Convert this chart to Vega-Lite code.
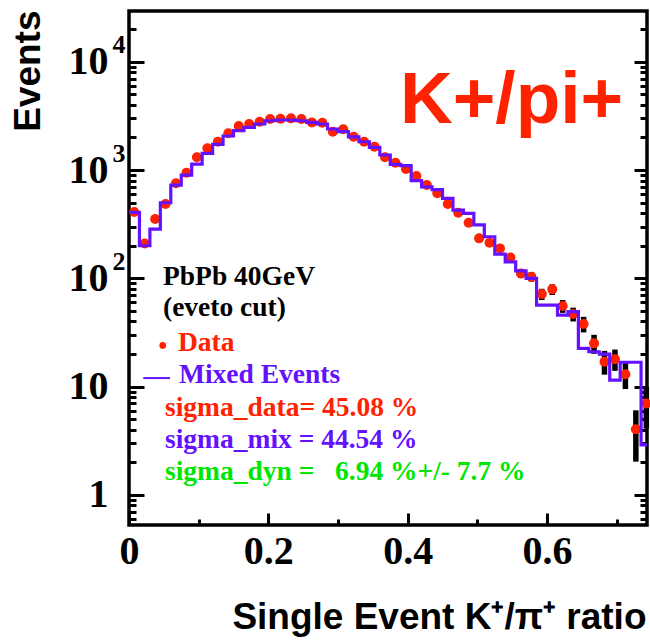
{
  "$schema": "https://vega.github.io/schema/vega-lite/v6.json",
  "width": 518,
  "height": 514,
  "autosize": "none",
  "padding": {"left": 129, "top": 11, "right": 3, "bottom": 118},
  "background": "white",
  "config": {
    "view": {"stroke": "black", "strokeWidth": 3.5},
    "axis": {"grid": false}
  },
  "datasets": {
    "hist": [
      {"ratio": 0.0, "events": 407}, {"ratio": 0.015, "events": 200}, {"ratio": 0.03, "events": 285},
      {"ratio": 0.045, "events": 499}, {"ratio": 0.06, "events": 727}, {"ratio": 0.075, "events": 899},
      {"ratio": 0.09, "events": 1135}, {"ratio": 0.105, "events": 1426}, {"ratio": 0.12, "events": 1727},
      {"ratio": 0.135, "events": 2061}, {"ratio": 0.15, "events": 2307}, {"ratio": 0.165, "events": 2478},
      {"ratio": 0.18, "events": 2661}, {"ratio": 0.195, "events": 2851}, {"ratio": 0.21, "events": 2897},
      {"ratio": 0.225, "events": 2897}, {"ratio": 0.24, "events": 2851}, {"ratio": 0.255, "events": 2754},
      {"ratio": 0.27, "events": 2661}, {"ratio": 0.285, "events": 2393}, {"ratio": 0.3, "events": 2259},
      {"ratio": 0.315, "events": 2028}, {"ratio": 0.33, "events": 1824}, {"ratio": 0.345, "events": 1618},
      {"ratio": 0.36, "events": 1377}, {"ratio": 0.375, "events": 1130}, {"ratio": 0.39, "events": 1100},
      {"ratio": 0.405, "events": 797}, {"ratio": 0.42, "events": 700}, {"ratio": 0.435, "events": 660},
      {"ratio": 0.45, "events": 547}, {"ratio": 0.465, "events": 427}, {"ratio": 0.48, "events": 398},
      {"ratio": 0.495, "events": 311}, {"ratio": 0.51, "events": 242}, {"ratio": 0.525, "events": 167},
      {"ratio": 0.54, "events": 142}, {"ratio": 0.555, "events": 117}, {"ratio": 0.57, "events": 100},
      {"ratio": 0.585, "events": 56.6}, {"ratio": 0.6, "events": 56.6}, {"ratio": 0.615, "events": 45.8},
      {"ratio": 0.63, "events": 49.2}, {"ratio": 0.645, "events": 22.6}, {"ratio": 0.66, "events": 21.0},
      {"ratio": 0.675, "events": 20.0}, {"ratio": 0.69, "events": 11.5}, {"ratio": 0.705, "events": 16.8},
      {"ratio": 0.72, "events": 16.8}, {"ratio": 0.735, "events": 2.9}, {"ratio": 0.75, "events": 2.9}
    ],
    "points": [
      {"ratio": 0.0075, "events": 410}, {"ratio": 0.0225, "events": 210}, {"ratio": 0.0375, "events": 353},
      {"ratio": 0.0525, "events": 486}, {"ratio": 0.0675, "events": 754}, {"ratio": 0.0825, "events": 944},
      {"ratio": 0.0975, "events": 1310}, {"ratio": 0.1125, "events": 1585}, {"ratio": 0.1275, "events": 1824},
      {"ratio": 0.1425, "events": 2183}, {"ratio": 0.1575, "events": 2548}, {"ratio": 0.1725, "events": 2661},
      {"ratio": 0.1875, "events": 2793}, {"ratio": 0.2025, "events": 2958}, {"ratio": 0.2175, "events": 2979},
      {"ratio": 0.2325, "events": 3000}, {"ratio": 0.2475, "events": 2958}, {"ratio": 0.2625, "events": 2754},
      {"ratio": 0.2775, "events": 2735}, {"ratio": 0.2925, "events": 2259}, {"ratio": 0.3075, "events": 2377},
      {"ratio": 0.3225, "events": 2028}, {"ratio": 0.3375, "events": 1824}, {"ratio": 0.3525, "events": 1641},
      {"ratio": 0.3675, "events": 1310}, {"ratio": 0.3825, "events": 1167}, {"ratio": 0.3975, "events": 1021},
      {"ratio": 0.4125, "events": 881}, {"ratio": 0.4275, "events": 727}, {"ratio": 0.4425, "events": 610},
      {"ratio": 0.4575, "events": 485}, {"ratio": 0.4725, "events": 403}, {"ratio": 0.4875, "events": 326},
      {"ratio": 0.5025, "events": 234}, {"ratio": 0.5175, "events": 213}, {"ratio": 0.5325, "events": 189},
      {"ratio": 0.5475, "events": 156, "lo": 143.5, "hi": 168.5},
      {"ratio": 0.5625, "events": 111, "lo": 100.5, "hi": 121.5},
      {"ratio": 0.5775, "events": 103.5, "lo": 93.3, "hi": 113.7},
      {"ratio": 0.5925, "events": 71.6, "lo": 63.1, "hi": 80.1},
      {"ratio": 0.6075, "events": 79.1, "lo": 70.2, "hi": 88.0},
      {"ratio": 0.6225, "events": 55.5, "lo": 48.0, "hi": 63.0},
      {"ratio": 0.6375, "events": 46.8, "lo": 40.0, "hi": 53.6},
      {"ratio": 0.6525, "events": 37.9, "lo": 31.7, "hi": 44.1},
      {"ratio": 0.6675, "events": 25.1, "lo": 20.1, "hi": 30.1},
      {"ratio": 0.6825, "events": 17.0, "lo": 12.9, "hi": 21.4},
      {"ratio": 0.6975, "events": 17.9, "lo": 14.0, "hi": 22.0},
      {"ratio": 0.7125, "events": 13.0, "lo": 9.5, "hi": 16.5},
      {"ratio": 0.7275, "events": 4.04, "lo": 2.03, "hi": 6.05},
      {"ratio": 0.7425, "events": 7.0, "lo": 4.1, "hi": 10.0}
    ],
    "anchor": [{}]
  },
  "resolve": {"axis": {"y": "independent"}},
  "layer": [
    {
      "data": {"name": "points"},
      "mark": {"type": "rule", "color": "black", "strokeWidth": 5.5},
      "encoding": {
        "x": {
          "field": "ratio", "type": "quantitative",
          "scale": {"domain": [0, 0.7435], "nice": false, "zero": false},
          "axis": {
            "orient": "bottom",
            "values": [0, 0.05, 0.1, 0.15, 0.2, 0.25, 0.3, 0.35, 0.4, 0.45, 0.5, 0.55, 0.6, 0.65, 0.7],
            "domain": false, "grid": false,
            "tickColor": "black", "tickWidth": 3,
            "tickSize": {"condition": {"test": "indexof([0, 0.2, 0.4, 0.6], datum.value) >= 0", "value": -12}, "value": -6},
            "labelExpr": "datum.value == 0 ? '0' : indexof([0.2, 0.4, 0.6], datum.value) >= 0 ? format(datum.value, '.1f') : ''",
            "labelFont": "Liberation Serif", "labelFontWeight": "bold", "labelFontSize": 40, "labelColor": "black",
            "labelAlign": "center", "labelBaseline": "top", "labelPadding": 18,
            "labelOverlap": false, "labelFlush": false, "labelBound": false,
            "title": "Single Event K⁺/π⁺ ratio",
            "titleFont": "Liberation Sans", "titleFontWeight": "bold", "titleFontSize": 37, "titleColor": "black",
            "titleAnchor": "end", "titleAlign": "right", "titleBaseline": "alphabetic",
            "titleX": 517, "titleY": 103
          }
        },
        "y": {
          "field": "lo", "type": "quantitative",
          "scale": {"type": "log", "domain": [0.528, 29400], "nice": false},
          "axis": {
            "orient": "left",
            "values": [0.6, 0.7, 0.8, 0.9, 1, 2, 3, 4, 5, 6, 7, 8, 9, 10, 20, 30, 40, 50, 60, 70, 80, 90, 100, 200, 300, 400, 500, 600, 700, 800, 900, 1000, 2000, 3000, 4000, 5000, 6000, 7000, 8000, 9000, 10000, 20000],
            "domain": false, "grid": false,
            "tickColor": "black", "tickWidth": 3,
            "tickSize": {"condition": {"test": "indexof([1, 10, 100, 1000, 10000], datum.value) >= 0", "value": -15}, "value": -7},
            "labelExpr": "datum.value == 1 ? '1' : indexof([10, 100, 1000, 10000], datum.value) >= 0 ? '10' : ''",
            "labelFont": "Liberation Serif", "labelFontWeight": "bold", "labelFontSize": 40, "labelColor": "black",
            "labelAlign": "right", "labelBaseline": "middle", "labelPadding": 36,
            "labelOverlap": false, "labelFlush": false, "labelBound": false,
            "title": "Events",
            "titleFont": "Liberation Sans", "titleFontWeight": "bold", "titleFontSize": 37, "titleColor": "black",
            "titleAngle": -90, "titleAlign": "right", "titleBaseline": "middle",
            "titleX": -101, "titleY": -1
          }
        },
        "y2": {"field": "hi"}
      }
    },
    {
      "data": {"name": "points"},
      "mark": {"type": "circle", "color": "#ff2200", "opacity": 1, "size": 100},
      "encoding": {
        "x": {"field": "ratio", "type": "quantitative"},
        "y": {
          "field": "events", "type": "quantitative",
          "scale": {"type": "log", "domain": [0.528, 29400], "nice": false},
          "axis": {
            "orient": "left",
            "values": [100, 1000, 10000],
            "ticks": false, "domain": false, "grid": false,
            "labelExpr": "datum.value == 10000 ? '4' : datum.value == 1000 ? '3' : '2'",
            "labelFont": "Liberation Serif", "labelFontWeight": "bold", "labelFontSize": 26, "labelColor": "black",
            "labelAlign": "left", "labelBaseline": "middle", "labelPadding": 17, "labelOffset": -17,
            "labelOverlap": false, "labelFlush": false, "labelBound": false,
            "title": null
          }
        }
      }
    },
    {
      "data": {"name": "hist"},
      "mark": {"type": "line", "interpolate": "step-after", "color": "#6311ff", "strokeWidth": 3.2, "clip": true},
      "encoding": {
        "x": {"field": "ratio", "type": "quantitative"},
        "y": {
          "field": "events", "type": "quantitative",
          "scale": {"type": "log", "domain": [0.528, 29400], "nice": false},
          "axis": {
            "orient": "right",
            "values": [0.6, 0.7, 0.8, 0.9, 1, 2, 3, 4, 5, 6, 7, 8, 9, 10, 20, 30, 40, 50, 60, 70, 80, 90, 100, 200, 300, 400, 500, 600, 700, 800, 900, 1000, 2000, 3000, 4000, 5000, 6000, 7000, 8000, 9000, 10000, 20000],
            "domain": false, "grid": false, "labels": false,
            "tickColor": "black", "tickWidth": 3,
            "tickSize": {"condition": {"test": "indexof([1, 10, 100, 1000, 10000], datum.value) >= 0", "value": -13}, "value": -7},
            "title": null
          }
        }
      }
    },
    {
      "data": {"name": "anchor"},
      "mark": {"type": "text", "text": "K+/pi+", "font": "Liberation Sans", "fontWeight": "bold", "fontSize": 73, "color": "#ff2200", "align": "left", "baseline": "alphabetic"},
      "encoding": {"x": {"datum": 0.389}, "y": {"datum": 2716, "axis": null}}
    },
    {
      "data": {"name": "anchor"},
      "mark": {"type": "text", "text": "PbPb 40GeV", "font": "Liberation Serif", "fontWeight": "bold", "fontSize": 27.5, "color": "black", "align": "left", "baseline": "alphabetic"},
      "encoding": {"x": {"datum": 0.0488}, "y": {"datum": 86.7, "axis": null}}
    },
    {
      "data": {"name": "anchor"},
      "mark": {"type": "text", "text": "(eveto cut)", "font": "Liberation Serif", "fontWeight": "bold", "fontSize": 27.5, "color": "black", "align": "left", "baseline": "alphabetic"},
      "encoding": {"x": {"datum": 0.0488}, "y": {"datum": 44.8, "axis": null}}
    },
    {
      "data": {"name": "anchor"},
      "mark": {"type": "circle", "color": "#ff2200", "opacity": 1, "size": 45},
      "encoding": {"x": {"datum": 0.0484}, "y": {"datum": 24.0, "axis": null}}
    },
    {
      "data": {"name": "anchor"},
      "mark": {"type": "text", "text": "Data", "font": "Liberation Serif", "fontWeight": "bold", "fontSize": 27.5, "color": "#ff2200", "align": "left", "baseline": "alphabetic"},
      "encoding": {"x": {"datum": 0.0703}, "y": {"datum": 21.3, "axis": null}}
    },
    {
      "data": {"name": "anchor"},
      "mark": {"type": "rule", "color": "#6311ff", "strokeWidth": 2},
      "encoding": {"x": {"datum": 0.0205}, "x2": {"datum": 0.0588}, "y": {"datum": 12.0, "axis": null}}
    },
    {
      "data": {"name": "anchor"},
      "mark": {"type": "text", "text": "Mixed Events", "font": "Liberation Serif", "fontWeight": "bold", "fontSize": 27.5, "color": "#6311ff", "align": "left", "baseline": "alphabetic"},
      "encoding": {"x": {"datum": 0.0717}, "y": {"datum": 10.8, "axis": null}}
    },
    {
      "data": {"name": "anchor"},
      "mark": {"type": "text", "text": "sigma_data= 45.08 %", "font": "Liberation Serif", "fontWeight": "bold", "fontSize": 27.5, "color": "#ff2200", "align": "left", "baseline": "alphabetic"},
      "encoding": {"x": {"datum": 0.0517}, "y": {"datum": 5.35, "axis": null}}
    },
    {
      "data": {"name": "anchor"},
      "mark": {"type": "text", "text": "sigma_mix = 44.54 %", "font": "Liberation Serif", "fontWeight": "bold", "fontSize": 27.5, "color": "#6311ff", "align": "left", "baseline": "alphabetic"},
      "encoding": {"x": {"datum": 0.0517}, "y": {"datum": 2.71, "axis": null}}
    },
    {
      "data": {"name": "anchor"},
      "mark": {"type": "text", "text": "sigma_dyn =\u00a0\u00a0\u00a06.94 %+/- 7.7 %", "font": "Liberation Serif", "fontWeight": "bold", "fontSize": 27.5, "color": "#00e600", "align": "left", "baseline": "alphabetic"},
      "encoding": {"x": {"datum": 0.0517}, "y": {"datum": 1.372, "axis": null}}
    }
  ]
}
